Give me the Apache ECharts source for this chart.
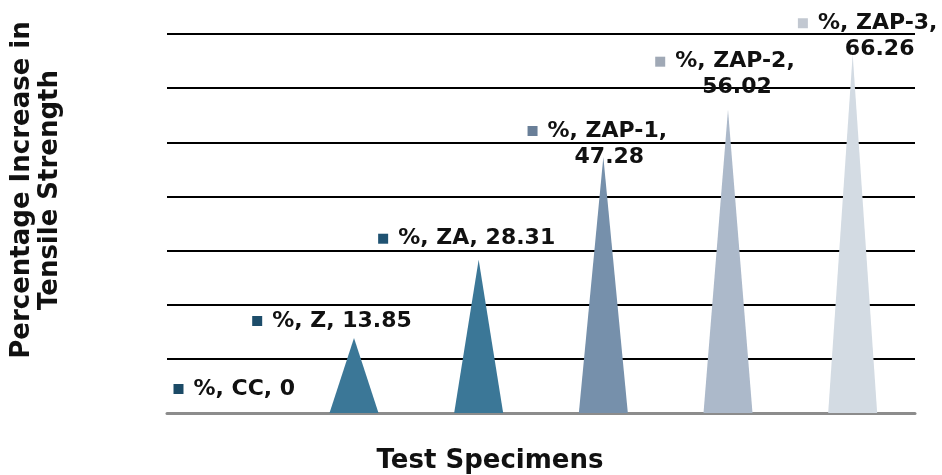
<!DOCTYPE html>
<html>
<head>
<meta charset="utf-8">
<script src="https://cdn.jsdelivr.net/npm/echarts@6/dist/echarts.min.js"></script>
<style>html,body{margin:0;padding:0;background:#fff;}#c{width:942px;height:475px;}</style>
</head>
<body>
<div id="c"></div>
<script>
var categories = ['CC', 'Z', 'ZA', 'ZAP-1', 'ZAP-2', 'ZAP-3'];
var values = [0, 13.85, 28.31, 47.28, 56.02, 66.26];
var valueLabels = ['0', '13.85', '28.31', '47.28', '56.02', '66.26'];
var yTitle = 'Percentage Increase in\nTensile Strength';
var xTitle = 'Test Specimens';

var barColors = ['#1f5272', '#3b7797', '#3b7797', '#7690ab', '#acb9ca', '#d3dbe3'];
var keyColors = ['#1b4a66', '#1d4d6a', '#1f5272', '#697f98', '#a0a9b6', '#c2c8d1'];
var wrap = [false, false, false, true, true, true];
var offs = [[5, -3], [-22, 4], [-12, 0], [-6, 21], [-3, -1], [15, 16]];

var FONT = 'DejaVu Sans';
var chart = echarts.init(document.getElementById('c'), null, {renderer: 'canvas'});

var data = values.map(function (v, i) {
  var t1 = '%, ' + categories[i] + ',';
  var t2 = valueLabels[i];
  var txt = wrap[i] ? ('{sq|}   {t|' + t1 + '}\n{pad|}{t|' + t2 + '}') : ('{sq|}   {t|' + t1 + ' ' + t2 + '}');
  return {
    value: v,
    itemStyle: {color: barColors[i]},
    label: {
      show: true,
      position: 'top',
      distance: 8,
      offset: offs[i],
      formatter: txt,
      rich: {
        sq: {width: 10, height: 10, backgroundColor: keyColors[i]},
        pad: {width: 24, height: 10},
        t: {fontFamily: FONT, fontWeight: 'bold', fontSize: 22, color: '#111', lineHeight: 26}
      }
    }
  };
});

chart.setOption({
  animation: false,
  backgroundColor: '#fff',
  grid: {left: 167, right: 27, top: 34, bottom: 62},
  xAxis: {
    type: 'category',
    data: categories,
    axisLine: {show: true, lineStyle: {color: '#8c8c8c', width: 3}},
    axisTick: {show: false},
    axisLabel: {show: false}
  },
  yAxis: {
    type: 'value',
    min: 0, max: 70, interval: 10,
    axisLine: {show: false},
    axisTick: {show: false},
    axisLabel: {show: false},
    splitLine: {lineStyle: {color: '#000', width: 2}}
  },
  series: [{
    type: 'pictorialBar',
    symbol: 'path://M0,100 L50,0 L100,100 Z',
    symbolSize: [49, '100%'],
    symbolPosition: 'start',
    barCategoryGap: '0%',
    data: data,
    z: 3
  }],
  graphic: [
    {
      type: 'text', x: 36, y: 190, rotation: Math.PI / 2,
      style: {text: yTitle, font: 'bold 26px "' + FONT + '"', fill: '#111', align: 'center', verticalAlign: 'middle', lineHeight: 28}
    },
    {
      type: 'text', x: 490, y: 461,
      style: {text: xTitle, font: 'bold 26px "' + FONT + '"', fill: '#111', align: 'center', verticalAlign: 'middle'}
    }
  ]
});
</script>
</body>
</html>
